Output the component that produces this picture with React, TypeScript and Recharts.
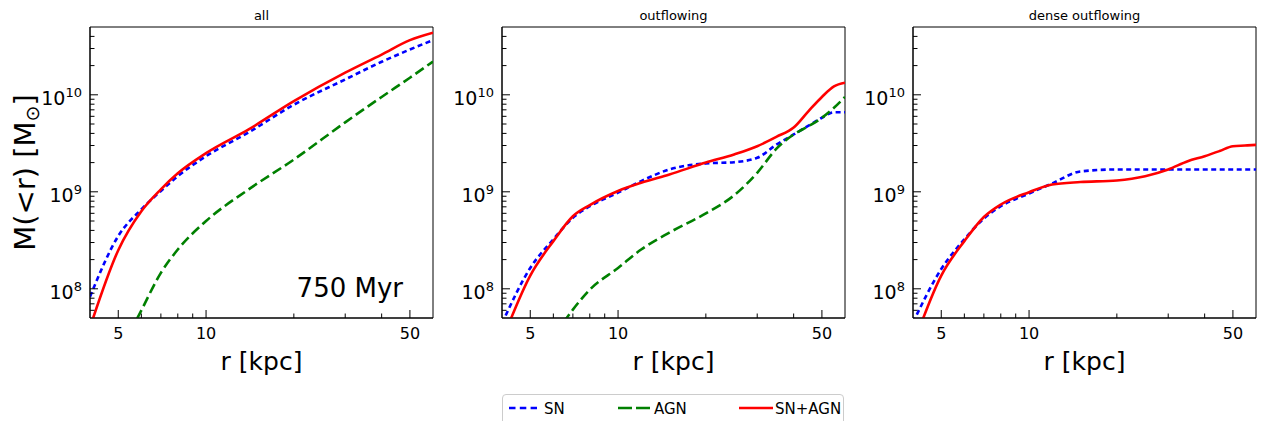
import React from "react";
import { Label, Line, LineChart, ReferenceArea, XAxis, YAxis } from "recharts";

// r [kpc] e M(<r) [Msun]
const R_ALL = [4, 5, 6, 7, 8, 10, 14, 20, 30, 40, 50, 60];
const SN_ALL = [8.3e7, 3.5e8, 6.6e8, 1.02e9, 1.45e9, 2.33e9, 4.1e9, 7.9e9, 1.44e10, 2.19e10, 2.93e10, 3.66e10];
const SNAGN_ALL = [4.0e7, 2.5e8, 6.3e8, 1.06e9, 1.55e9, 2.5e9, 4.4e9, 8.6e9, 1.69e10, 2.6e10, 3.66e10, 4.37e10];
const R_AGN_ALL = [5.5, 6, 7, 8, 10, 14, 20, 30, 40, 50, 60];
const AGN_ALL = [3.6e7, 6.0e7, 1.46e8, 2.54e8, 5.0e8, 1.06e9, 2.15e9, 5.2e9, 9.5e9, 1.5e10, 2.2e10];

const R_OUT = [4, 5, 6, 7, 8, 10, 12, 15, 20, 25, 30, 35, 40, 45, 50, 55, 60];
const SN_OUT = [4.4e7, 1.64e8, 3.24e8, 5.4e8, 7.1e8, 9.8e8, 1.29e9, 1.7e9, 1.96e9, 2.02e9, 2.24e9, 3.08e9, 3.9e9, 4.8e9, 5.8e9, 6.6e9, 6.6e9];
const SNAGN_OUT = [2.9e7, 1.37e8, 3.1e8, 5.6e8, 7.3e8, 1.02e9, 1.24e9, 1.51e9, 2.0e9, 2.43e9, 2.95e9, 3.7e9, 4.6e9, 6.8e9, 9.5e9, 1.22e10, 1.33e10];
const R_AGN_OUT = [6.5, 7, 8, 10, 12, 15, 20, 25, 30, 35, 40, 45, 50, 55, 60];
const AGN_OUT = [4.5e7, 6.1e7, 9.8e7, 1.64e8, 2.54e8, 3.8e8, 6.0e8, 9.2e8, 1.57e9, 2.8e9, 3.9e9, 4.75e9, 5.8e9, 7.35e9, 9.5e9];

const R_DENSE = [4, 5, 6, 7, 8, 10, 12, 15, 20, 25, 30, 35, 40, 45, 50, 55, 60];
const SN_DENSE = [4.5e7, 1.6e8, 3.24e8, 5.3e8, 7.1e8, 9.6e8, 1.22e9, 1.62e9, 1.7e9, 1.7e9, 1.7e9, 1.7e9, 1.7e9, 1.7e9, 1.7e9, 1.7e9, 1.7e9];
const SNAGN_DENSE = [2.6e7, 1.37e8, 3.1e8, 5.5e8, 7.4e8, 9.9e8, 1.19e9, 1.26e9, 1.31e9, 1.45e9, 1.7e9, 2.07e9, 2.33e9, 2.63e9, 2.95e9, 3.0e9, 3.05e9];

const X_TICKS = [5, 6, 7, 8, 9, 10, 20, 30, 40, 50];
const X_LABELS = [5, 10, 50];
const Y_TICKS = [
  6e7, 7e7, 8e7, 9e7, 1e8, 2e8, 3e8, 4e8, 5e8, 6e8, 7e8, 8e8, 9e8,
  1e9, 2e9, 3e9, 4e9, 5e9, 6e9, 7e9, 8e9, 9e9, 1e10, 2e10, 3e10, 4e10,
];

const SERIES = [
  { key: "SN", cor: "#0000ff", dash: "5 3.5", legendDash: "6.5 4.3", legendLen: 28 },
  { key: "AGN", cor: "#008000", dash: "10 4.5", legendDash: "14 4", legendLen: 32 },
  { key: "SN+AGN", cor: "#ff0000", dash: undefined, legendDash: undefined, legendLen: 34 },
];

const pts = (r: number[], m: number[]) => r.map((x, i) => ({ r: x, m: m[i] }));

const PAINEIS = [
  {
    titulo: "all",
    left: 90,
    nota: "750 Myr",
    linhas: [pts(R_ALL, SN_ALL), pts(R_AGN_ALL, AGN_ALL), pts(R_ALL, SNAGN_ALL)],
  },
  {
    titulo: "outflowing",
    left: 502,
    linhas: [pts(R_OUT, SN_OUT), pts(R_AGN_OUT, AGN_OUT), pts(R_OUT, SNAGN_OUT)],
  },
  {
    titulo: "dense outflowing",
    left: 913,
    linhas: [pts(R_DENSE, SN_DENSE), null, pts(R_DENSE, SNAGN_DENSE)],
  },
];

const YW = 90; // largura do eixo Y
const PW = 343; // largura da área do gráfico
const TOP = 27;
const XH = 103;
const H = 421;

function XTick(props: any) {
  const { x, y, payload } = props;
  const v = payload.value;
  const major = X_LABELS.includes(v);
  return (
    <g>
      <line x1={x} x2={x} y1={y} y2={y - (major ? 8 : 4.5)} stroke="#000" strokeWidth={1} />
      {major && (
        <text x={x} y={y + 20.5} textAnchor="middle" fontSize={16} fill="#000">
          {v}
        </text>
      )}
    </g>
  );
}

function YTick(props: any) {
  const { x, y, payload } = props;
  const v = payload.value;
  const exp = Math.round(Math.log10(v));
  const major = Math.abs(v - 10 ** exp) < 1e-6 * v;
  return (
    <g>
      <line x1={x} x2={x + (major ? 8 : 4.5)} y1={y} y2={y} stroke="#000" strokeWidth={1} />
      {major && (
        <text x={x - 8} y={y + 10} textAnchor="end" fontSize={19} fill="#000">
          10
          <tspan dy={-8} fontSize={13}>
            {exp}
          </tspan>
        </text>
      )}
    </g>
  );
}

function Painel({ p, first }: { p: (typeof PAINEIS)[number]; first: boolean }) {
  return (
    <div style={{ position: "absolute", left: p.left - YW, top: 0 }}>
      <LineChart width={YW + PW + 4} height={H} margin={{ top: TOP, right: 4, bottom: 0, left: 0 }}>
        <XAxis
          dataKey="r"
          type="number"
          scale="log"
          domain={[4, 60]}
          allowDataOverflow
          ticks={X_TICKS}
          interval={0}
          tickSize={0.001}
          tickMargin={0}
          tickLine={false}
          axisLine={{ stroke: "#000" }}
          height={XH}
          tick={(t: any) => <XTick {...t} />}
        >
          <Label
            content={({ viewBox }: any) => (
              <text x={viewBox.x + viewBox.width / 2} y={viewBox.y + 52} textAnchor="middle" fontSize={25} fill="#000">
                r [kpc]
              </text>
            )}
          />
        </XAxis>
        <YAxis
          dataKey="m"
          type="number"
          scale="log"
          domain={[5e7, 5e10]}
          allowDataOverflow
          ticks={Y_TICKS}
          interval={0}
          tickSize={0.001}
          tickMargin={0}
          tickLine={false}
          axisLine={{ stroke: "#000" }}
          width={YW}
          tick={(t: any) => <YTick {...t} />}
        >
          {first && (
            <Label
              content={({ viewBox }: any) => {
                const cx = viewBox.x + 35;
                const cy = viewBox.y + viewBox.height / 2;
                return (
                  <text transform={`translate(${cx}, ${cy}) rotate(-90)`} textAnchor="middle" fontSize={29} fill="#000">
                    M(&lt;r) [M
                    <tspan dy={4} fontSize={19}>
                      ⊙
                    </tspan>
                    <tspan dy={-4}>]</tspan>
                  </text>
                );
              }}
            />
          )}
        </YAxis>
        {p.linhas.map((data, i) =>
          data ? (
            <Line
              key={SERIES[i].key}
              data={data}
              dataKey="m"
              name={SERIES[i].key}
              type="monotone"
              stroke={SERIES[i].cor}
              strokeWidth={2.6}
              strokeDasharray={SERIES[i].dash}
              dot={false}
              activeDot={false}
              isAnimationActive={false}
            />
          ) : null,
        )}
        <ReferenceArea x1={4} x2={60} y1={5e7} y2={5e10} fill="none" stroke="#000" strokeWidth={1} ifOverflow="visible">
          <Label
            content={({ viewBox }: any) => (
              <text x={viewBox.x + viewBox.width / 2} y={viewBox.y - 7} textAnchor="middle" fontSize={13} fill="#000">
                {p.titulo}
              </text>
            )}
          />
          {p.nota && (
            <Label
              content={({ viewBox }: any) => (
                <text x={viewBox.x + viewBox.width - 30} y={viewBox.y + viewBox.height - 21} textAnchor="end" fontSize={26} fill="#000">
                  {p.nota}
                </text>
              )}
            />
          )}
        </ReferenceArea>
      </LineChart>
    </div>
  );
}

function Legenda() {
  const xs = [6, 115, 236];
  const tx = [41, 151, 272];
  return (
    <div
      style={{
        position: "absolute",
        left: 502,
        top: 394,
        width: 342,
        height: 40,
        border: "1px solid #cccccc",
        borderRadius: 4,
        boxSizing: "border-box",
        background: "#fff",
      }}
    >
      <svg width={340} height={30}>
        {SERIES.map((s, i) => (
          <g key={s.key}>
            <line
              x1={xs[i]}
              x2={xs[i] + s.legendLen}
              y1={13}
              y2={13}
              stroke={s.cor}
              strokeWidth={2.6}
              strokeDasharray={s.legendDash}
            />
            <text x={tx[i]} y={18.5} fontSize={15} fill="#000">
              {s.key}
            </text>
          </g>
        ))}
      </svg>
    </div>
  );
}

export default function App() {
  return (
    <div
      style={{
        position: "absolute",
        left: 0,
        top: 0,
        width: 1261,
        height: H,
        overflow: "hidden",
        background: "#fff",
        fontFamily: "'DejaVu Sans', sans-serif",
      }}
    >
      {PAINEIS.map((p, i) => (
        <Painel key={p.titulo} p={p} first={i === 0} />
      ))}
      <Legenda />
    </div>
  );
}
